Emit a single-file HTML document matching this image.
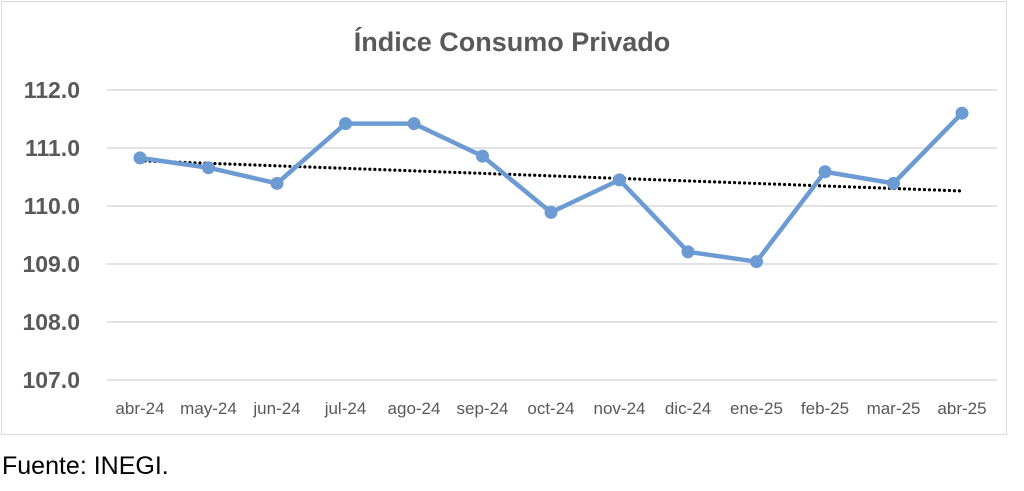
<!DOCTYPE html>
<html><head><meta charset="utf-8"><style>
body{margin:0;background:#fff;width:1024px;height:491px;overflow:hidden;font-family:"Liberation Sans",sans-serif}
svg{position:absolute;left:0;top:0}
#src{position:absolute;left:2px;top:452px;font-size:25px;color:#000}
</style></head><body>
<svg width="1024" height="491">
<rect x="1.5" y="1.5" width="1005" height="433" fill="#fff" stroke="#d9d9d9"/>
<text x="512" y="51" text-anchor="middle" font-size="27" font-weight="bold" fill="#595959">Índice Consumo Privado</text>
<g id="grid"></g><g id="trend"></g><g id="series"></g><g id="xlab"></g>
</svg>
<div id="src">Fuente: INEGI.</div>
<script>
const categories=["abr-24","may-24","jun-24","jul-24","ago-24","sep-24","oct-24","nov-24","dic-24","ene-25","feb-25","mar-25","abr-25"];
const values=[110.83,110.66,110.39,111.42,111.42,110.86,109.89,110.45,109.21,109.04,110.59,110.39,111.60];
const yTicks=[107,108,109,110,111,112];
const yTickLabels=["107.0","108.0","109.0","110.0","111.0","112.0"];
const NS="http://www.w3.org/2000/svg";
const x0=140,dx=68.5,yMin=107,yMax=112,py0=380,py1=90;
const X=i=>x0+i*dx;
const Y=v=>py0-(v-yMin)/(yMax-yMin)*(py0-py1);
function mk(t,a,p){const e=document.createElementNS(NS,t);for(const k in a)e.setAttribute(k,a[k]);p.appendChild(e);return e;}
const grid=document.getElementById('grid');
yTicks.forEach((v,i)=>{
 const l=mk('line',{x1:107,x2:997,y1:Y(v),y2:Y(v),stroke:'#d9d9d9','stroke-width':1.5},grid);
 
 
 const t=mk('text',{x:80,y:Y(v)+8,'text-anchor':'end','font-size':23,'font-weight':'bold',fill:'#595959'},grid);
 t.textContent=yTickLabels[i];
 
 
});
const xl=document.getElementById('xlab');
categories.forEach((c,i)=>{
 const t=mk('text',{x:X(i),y:414,'text-anchor':'middle','font-size':17,fill:'#595959'},xl);
 t.textContent=c;
 
 
});
const n=values.length;let sx=0,sy=0,sxy=0,sxx=0;
values.forEach((v,i)=>{sx+=i;sy+=v;sxy+=i*v;sxx+=i*i;});
const b=(n*sxy-sx*sy)/(n*sxx-sx*sx),a=(sy-b*sx)/n;
const tr=mk('line',{x1:X(0),y1:Y(a),x2:X(n-1),y2:Y(a+b*(n-1)),stroke:'#000','stroke-width':3.2,'stroke-dasharray':'0 5','stroke-linecap':'round'},document.getElementById('trend'));


const sg=document.getElementById('series');
const pl=mk('polyline',{points:values.map((v,i)=>X(i)+','+Y(v)).join(' '),fill:'none',stroke:'#6b9bd2','stroke-width':4.5,'stroke-linejoin':'round'},sg);


values.forEach((v,i)=>{
 const c=mk('circle',{cx:X(i),cy:Y(v),r:6.5,fill:'#6b9bd2'},sg);
 
 
});
</script>
</body></html>
